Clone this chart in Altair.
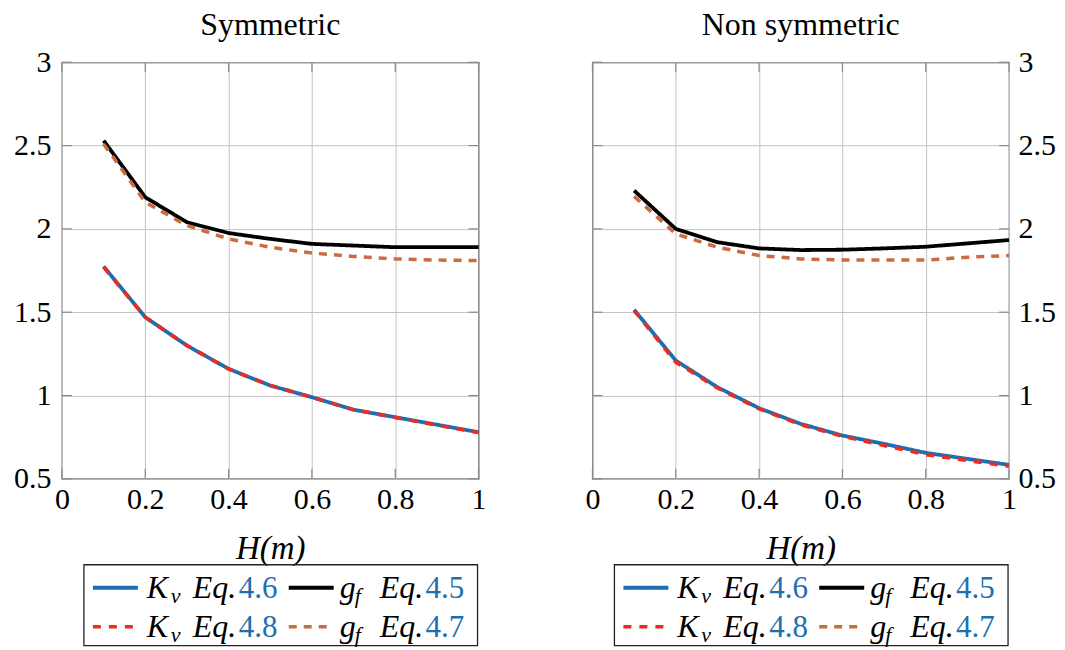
import altair as alt
import pandas as pd

# ---------------- data ----------------
H = [0.1, 0.2, 0.3, 0.4, 0.5, 0.6, 0.7, 0.8, 0.9, 1.0]

sym_kv46 = [1.775, 1.47, 1.30, 1.16, 1.06, 0.99, 0.915, 0.87, 0.825, 0.78]
sym_kv48 = [1.77, 1.47, 1.30, 1.16, 1.06, 0.99, 0.915, 0.868, 0.822, 0.778]
sym_gf45 = [2.53, 2.19, 2.04, 1.975, 1.94, 1.91, 1.90, 1.89, 1.89, 1.89]
sym_gf47 = [2.51, 2.16, 2.02, 1.94, 1.89, 1.855, 1.835, 1.82, 1.813, 1.81]

non_kv46 = [1.515, 1.21, 1.05, 0.924, 0.83, 0.76, 0.71, 0.656, 0.62, 0.584]
non_kv48 = [1.51, 1.20, 1.045, 0.92, 0.825, 0.755, 0.70, 0.645, 0.61, 0.575]
non_gf45 = [2.23, 2.00, 1.92, 1.883, 1.873, 1.875, 1.883, 1.893, 1.913, 1.933]
non_gf47 = [2.195, 1.97, 1.89, 1.84, 1.82, 1.813, 1.813, 1.813, 1.83, 1.84]

x_ticks = [0, 0.2, 0.4, 0.6, 0.8, 1]
y_ticks = [0.5, 1, 1.5, 2, 2.5, 3]

leg_series = ["kv46", "gf45", "kv48", "gf47"]
leg_main = ["K", "g", "K", "g"]
leg_sub = ["v", "f", "v", "f"]
leg_eq = ["Eq.", "Eq.", "Eq.", "Eq."]
leg_num = ["4.6", "4.5", "4.8", "4.7"]
leg_col = [0, 1, 0, 1]
leg_row = [0, 0, 1, 1]

# ---------------- style ----------------
FONT = "'Liberation Serif', 'DejaVu Serif', serif"
ORDER = ["gf45", "gf47", "kv46", "kv48"]
COLORS = {"gf45": "#000000", "gf47": "#cc6b3f", "kv46": "#1f6fb0", "kv48": "#ef2a1f"}
DASH = {"gf45": [1, 0], "gf47": [8, 7], "kv46": [1, 0], "kv48": [8, 8]}
SW = {"gf45": 3.8, "gf47": 3.5, "kv46": 3.8, "kv48": 3.5}
NUM_BLUE = "#1f6fb0"
W, HGT = 417, 417
TICK_LEN = 10
TICK_COLOR = "#8a8a8a"


def plot_panel(title, series, orient):
    xaxis = alt.Axis(values=x_ticks, labelExpr="datum.value + ''", title="H(m)",
                     titleFontStyle="italic", grid=True, ticks=False, domain=False,
                     labelFlush=False, labelOverlap=False, labelPadding=6,
                     titlePadding=18)
    yaxis = alt.Axis(values=y_ticks, labelExpr="datum.value + ''", title=None,
                     orient=orient, grid=True, ticks=False, domain=False,
                     labelFlush=False, labelOverlap=False,
                     labelPadding=11 if orient == "left" else 9)
    xsc = alt.Scale(domain=[0, 1], nice=False, zero=False)
    ysc = alt.Scale(domain=[0.5, 3], nice=False, zero=False)
    layers = []
    # inward tick marks on all four sides
    ydf = pd.DataFrame({"v": y_ticks})
    xdf = pd.DataFrame({"H": x_ticks})
    for x0 in (0, W - TICK_LEN):
        layers.append(alt.Chart(ydf).mark_rule(color=TICK_COLOR, strokeWidth=1.2).encode(
            x=alt.value(x0), x2=alt.value(x0 + TICK_LEN),
            y=alt.Y("v:Q", scale=ysc, axis=yaxis)))
    for y0 in (0, HGT - TICK_LEN):
        layers.append(alt.Chart(xdf).mark_rule(color=TICK_COLOR, strokeWidth=1.2).encode(
            y=alt.value(y0), y2=alt.value(y0 + TICK_LEN),
            x=alt.X("H:Q", scale=xsc, axis=xaxis)))
    for key in ORDER:
        df = pd.DataFrame({"H": H, "v": series[key]})
        layers.append(
            alt.Chart(df).mark_line(color=COLORS[key], strokeDash=DASH[key],
                                    strokeWidth=SW[key], strokeCap="butt").encode(
                x=alt.X("H:Q", scale=xsc, axis=xaxis),
                y=alt.Y("v:Q", scale=ysc, axis=yaxis),
            )
        )
    return alt.layer(*layers).properties(
        width=W, height=HGT,
        title=alt.TitleParams(title, font=FONT, fontSize=32, fontWeight="normal",
                              color="black", offset=5),
    )


def legend_panel():
    df = pd.DataFrame({"series": leg_series, "main": leg_main, "sub": leg_sub,
                       "eq": leg_eq, "num": leg_num, "col": leg_col, "row": leg_row})
    xs = alt.Scale(domain=[0, 1], range=[31, 227])
    ys = alt.Scale(domain=[0, 1], range=[23, 62])
    base = alt.Chart(df)
    layers = [
        alt.Chart(pd.DataFrame({"a": [0]})).mark_rect(filled=False, stroke="#222222", strokeWidth=1.3).encode(
            x=alt.value(22), x2=alt.value(416), y=alt.value(0), y2=alt.value(81))
    ]
    for key in leg_series:
        layers.append(
            base.transform_filter(alt.datum.series == key)
            .transform_calculate(xe="datum.col + 45/196")
            .mark_rule(color=COLORS[key], strokeDash=DASH[key], strokeWidth=SW[key], strokeCap="butt")
            .encode(x=alt.X("col:Q", scale=xs, axis=None), x2="xe:Q",
                    y=alt.Y("row:Q", scale=ys, axis=None))
        )
    offsets = {0: dict(main=54, sub=78, eq=100, num=146),
               1: dict(main=51, sub=66, eq=91, num=137)}
    for c in (0, 1):
        o = offsets[c]
        b = base.transform_filter(alt.datum.col == c)
        enc = dict(x=alt.X("col:Q", scale=xs, axis=None), y=alt.Y("row:Q", scale=ys, axis=None))
        layers.append(b.mark_text(align="left", baseline="alphabetic", font=FONT, fontSize=32,
                                  fontStyle="italic", color="black", dx=o["main"], dy=10)
                      .encode(text="main:N", **enc))
        layers.append(b.mark_text(align="left", baseline="alphabetic", font=FONT, fontSize=22,
                                  fontStyle="italic", color="black", dx=o["sub"], dy=15)
                      .encode(text="sub:N", **enc))
        layers.append(b.mark_text(align="left", baseline="alphabetic", font=FONT, fontSize=32,
                                  fontStyle="italic", color="black", dx=o["eq"], dy=10)
                      .encode(text="eq:N", **enc))
        layers.append(b.mark_text(align="left", baseline="alphabetic", font=FONT, fontSize=31,
                                  color=NUM_BLUE, dx=o["num"], dy=10)
                      .encode(text="num:N", **enc))
    return alt.layer(*layers).properties(width=W, height=81,
                                         view=alt.ViewBackground(stroke="transparent"))


sym = {"kv46": sym_kv46, "kv48": sym_kv48, "gf45": sym_gf45, "gf47": sym_gf47}
non = {"kv46": non_kv46, "kv48": non_kv48, "gf45": non_gf45, "gf47": non_gf47}

left = plot_panel("Symmetric", sym, "left")
right = plot_panel("Non symmetric", non, "right")

chart = alt.concat(
    left, right, legend_panel(), legend_panel(),
    columns=2, spacing={"row": 86, "column": 114}, bounds="flush",
).properties(
    padding={"left": 4, "top": 0, "right": 0, "bottom": 0}
).configure_view(
    stroke="#333333", strokeWidth=1.2
).configure_axis(
    labelFont=FONT, labelFontSize=30, labelColor="black",
    titleFont=FONT, titleFontSize=33, titleColor="black", titleFontWeight="normal",
    gridColor="#c4c4c4", gridWidth=1, gridOpacity=1,
)

chart.save("out.html", embed_options={"renderer": "svg", "actions": False})
